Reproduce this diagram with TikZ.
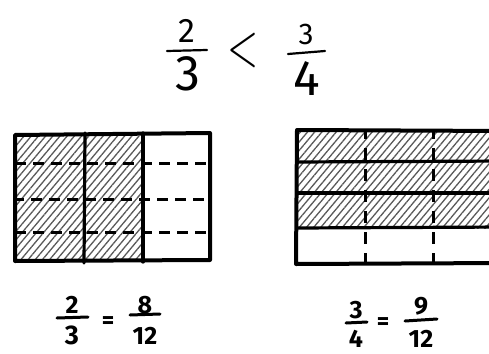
\documentclass[tikz,border=0pt]{standalone}
\usepackage{fontspec}
\setmainfont{Fira Sans}
\usetikzlibrary{patterns.meta}
\tikzset{
  outline/.style={line width=4pt, line join=round, line cap=round},
  solidline/.style={line width=3.2pt, line cap=round},
  dashline/.style={line width=3pt, dash pattern=on 11pt off 7pt},
  hatch/.style={fill=black!8, pattern={Lines[angle=50,distance=5.5pt,line width=1.3pt]}, pattern color=black!65},
  bar/.style={line width=2.2pt, line cap=round},
  thickbar/.style={line width=3pt, line cap=round},
  bigdigit/.style={inner sep=0pt, font=\fontsize{50}{50}\selectfont},
  smalldigit/.style={inner sep=0pt, font=\fontsize{34}{34}\selectfont},
  lowdigit/.style={inner sep=0pt, font=\bfseries\fontsize{25}{25}\selectfont},
  lowsym/.style={inner sep=0pt, font=\bfseries\fontsize{24}{24}\selectfont}
}
\begin{document}
\begin{tikzpicture}[x=1pt,y=-1pt]
\useasboundingbox (0,0) rectangle (489,353);

% ---------- top comparison ----------
\node[smalldigit] (tn1) at (187,31) {2};
\coordinate (tb1l) at (167,51); \coordinate (tb1r) at (207,50);
\draw[bar] (tb1l) -- (tb1r);
\node[bigdigit] (td1) at (188,74) {3};
\node[inner sep=0pt, xscale=4, yscale=6] (lt) at (243,51) {$<$};
\node[smalldigit, font=\fontsize{30}{30}\selectfont] (tn2) at (306,34) {3};
\coordinate (tb2l) at (288,54); \coordinate (tb2r) at (325,51);
\draw[bar] (tb2l) -- (tb2r);
\node[bigdigit] (td2) at (307,79) {4};

% ---------- left rectangle: 2/3 = 8/12 ----------
\coordinate (L1) at (15,135); \coordinate (L2) at (210,260);
\fill[hatch] (15,136) rectangle (143,259);
\draw[solidline] (85,133) -- (84,263);
\draw[solidline] (143,133) -- (143,262);
\draw[dashline] (15,163) -- (208,163);
\draw[dashline] (13,199) -- (208,199);
\draw[dashline] (15,232) -- (208,232);
\draw[outline] (L1) -- (210,133) -- (L2) -- (15,261) -- cycle;

% ---------- right rectangle: 3/4 = 9/12 ----------
\coordinate (R1) at (297,130); \coordinate (R2) at (505,263);
\fill[hatch] (297,131) rectangle (505,228);
\draw[dashline, dash pattern=on 12pt off 9pt, dash phase=3pt] (365,130) -- (365,263);
\draw[dashline, dash pattern=on 12pt off 9pt, dash phase=3pt] (433,130) -- (433,263);
\draw[solidline] (297,162) -- (505,161);
\draw[solidline] (297,193) -- (505,193);
\draw[solidline] (297,228) -- (505,227);
\draw[outline] (R1) -- (505,131) -- (R2) -- (296,264) -- cycle;

% ---------- bottom left equation ----------
\node[lowdigit] (bn1) at (72,305) {2};
\coordinate (bb1l) at (57,318); \coordinate (bb1r) at (88,317);
\draw[thickbar] (bb1l) -- (bb1r);
\node[lowdigit, font=\bfseries\fontsize{27}{27}\selectfont] (bd1) at (72,335) {3};
\node[lowsym] (eq1) at (108,323) {=};
\node[lowdigit] (bn2) at (145,305) {8};
\coordinate (bb2l) at (130,315); \coordinate (bb2r) at (160,314);
\draw[thickbar] (bb2l) -- (bb2r);
\node[lowdigit] (bd2) at (145,336) {12};

% ---------- bottom right equation ----------
\node[lowdigit] (bn3) at (356,310) {3};
\coordinate (bb3l) at (346,323); \coordinate (bb3r) at (367,322);
\draw[thickbar] (bb3l) -- (bb3r);
\node[lowdigit] (bd3) at (356,339) {4};
\node[lowsym] (eq2) at (383,324) {=};
\node[lowdigit] (bn4) at (421,306) {9};
\coordinate (bb4l) at (405,321); \coordinate (bb4r) at (437,319);
\draw[thickbar] (bb4l) -- (bb4r);
\node[lowdigit] (bd4) at (421,339) {12};
\end{tikzpicture}
\end{document}
